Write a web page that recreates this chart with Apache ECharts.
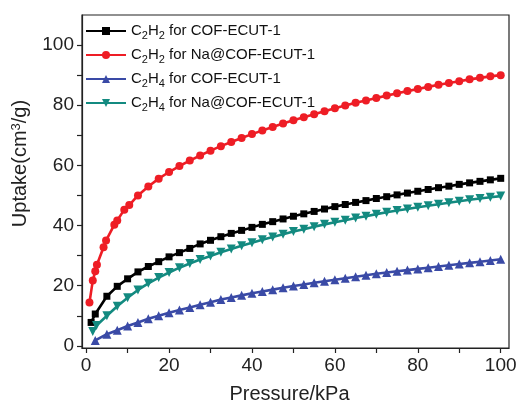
<!DOCTYPE html>
<html>
<head>
<meta charset="utf-8">
<script src="https://cdn.jsdelivr.net/npm/echarts@6/dist/echarts.min.js"></script>
<style>
  html, body { margin: 0; padding: 0; background: #fff; }
  #box01 { width: 517px; height: 405px; }
</style>
</head>
<body>
<div id="box01"></div>
<script>
// 图例名称
var seriesNames = ['C2H2 for COF-ECUT-1', 'C2H2 for Na@COF-ECUT-1', 'C2H4 for COF-ECUT-1', 'C2H4 for Na@COF-ECUT-1'];

// 压力 (kPa)，后段每 2.5 kPa 一个点
var pressureTail = [12.5, 15, 17.5, 20, 22.5, 25, 27.5, 30, 32.5, 35, 37.5, 40, 42.5, 45, 47.5, 50,
    52.5, 55, 57.5, 60, 62.5, 65, 67.5, 70, 72.5, 75, 77.5, 80, 82.5, 85, 87.5, 90, 92.5, 95, 97.5, 100];

var pressureC2H2 = [1.2, 2.2, 5, 7.5, 10].concat(pressureTail);
var uptakeC2H2 = [7.8, 10.6, 16.5, 19.8, 22.3,
    24.6, 26.4, 28.0, 29.6, 31.0, 32.4, 33.9, 35.1, 36.3, 37.4, 38.4, 39.4, 40.4, 41.3, 42.2, 43.1,
    43.9, 44.7, 45.5, 46.3, 47.0, 47.7, 48.3, 49.0, 49.6, 50.2, 50.8, 51.4, 52.0, 52.6, 53.1, 53.7,
    54.2, 54.7, 55.2, 55.7];

var pressureNaC2H2 = [0.8, 1.6, 2.2, 2.6, 4.2, 4.8, 6.8, 7.5, 9.2, 10.4].concat(pressureTail);
var uptakeNaC2H2 = [14.4, 21.7, 24.8, 27.0, 32.8, 35.0, 40.3, 41.7, 45.3, 46.8,
    50.0, 53.0, 55.6, 57.8, 59.8, 61.6, 63.3, 64.9, 66.4, 67.8, 69.1, 70.4, 71.6, 72.8, 73.9, 75.0,
    76.0, 77.0, 78.0, 79.0, 79.9, 80.8, 81.6, 82.4, 83.2, 84.0, 84.7, 85.4, 86.1, 86.8, 87.4, 88.0,
    88.6, 89.1, 89.6, 90.0];

var pressureC2H4 = [2.2, 5, 7.5, 10].concat(pressureTail);
var uptakeC2H4 = [1.8, 3.9, 5.2, 6.6,
    7.8, 9.0, 10.0, 11.0, 11.9, 12.8, 13.7, 14.5, 15.4, 16.1, 16.8, 17.5, 18.1, 18.7, 19.3, 19.9,
    20.4, 21.0, 21.5, 22.0, 22.5, 23.0, 23.5, 24.0, 24.4, 24.8, 25.2, 25.6, 26.0, 26.4, 26.8, 27.2,
    27.6, 28.0, 28.4, 28.8];

var pressureNaC2H4 = [1.6, 2.5, 5, 7.5, 10].concat(pressureTail);
var uptakeNaC2H4 = [4.8, 6.8, 10.0, 13.2, 16.0,
    18.6, 20.8, 22.7, 24.4, 26.0, 27.4, 28.7, 29.9, 31.1, 32.2, 33.3, 34.3, 35.3, 36.2, 37.1, 38.0,
    38.8, 39.6, 40.4, 41.1, 41.8, 42.5, 43.1, 43.8, 44.4, 45.0, 45.5, 46.1, 46.6, 47.1, 47.6, 48.1,
    48.6, 49.0, 49.4, 49.8];

// 刻度
var xTicks = [0, 10, 20, 30, 40, 50, 60, 70, 80, 90, 100];
var xLabels = [0, 20, 40, 60, 80, 100];
var yTicks = [0, 10, 20, 30, 40, 50, 60, 70, 80, 90, 100];
var yLabels = [0, 20, 40, 60, 80, 100];

function pairs(xs, ys) {
    return xs.map(function (x, i) { return [x, ys[i]]; });
}

var legendText = {
    'C2H2 for COF-ECUT-1': '{n|C}{s|2}{n|H}{s|2}{n| for COF-ECUT-1}',
    'C2H2 for Na@COF-ECUT-1': '{n|C}{s|2}{n|H}{s|2}{n| for Na@COF-ECUT-1}',
    'C2H4 for COF-ECUT-1': '{n|C}{s|2}{n|H}{s|4}{n| for COF-ECUT-1}',
    'C2H4 for Na@COF-ECUT-1': '{n|C}{s|2}{n|H}{s|4}{n| for Na@COF-ECUT-1}'
};

var axisColor = '#222';
var font = 'Liberation Sans, Arial, sans-serif';

var myChart = echarts.init(document.getElementById('box01'));

var option = {
    backgroundColor: '#fff',
    animation: false,
    grid: {
        left: 82, right: 8, top: 15, bottom: 57,
        outerBoundsMode: 'none',
        show: true, borderColor: axisColor, borderWidth: 1.2
    },
    legend: {
        orient: 'vertical',
        left: 85, top: 21, padding: 0,
        itemWidth: 40, itemHeight: 10, itemGap: 4,
        data: seriesNames,
        formatter: function (name) { return legendText[name]; },
        textStyle: {
            fontFamily: font, color: '#111',
            rich: {
                n: { fontSize: 15, fontFamily: font, color: '#111', lineHeight: 18, padding: [0, 0, 0, 0] },
                s: { fontSize: 11, fontFamily: font, color: '#111', lineHeight: 11, padding: [9, 0, 0, 0] }
            }
        }
    },
    xAxis: {
        type: 'value', min: -1, max: 102,
        name: 'Pressure/kPa', nameLocation: 'middle', nameGap: 36,
        nameTextStyle: { fontSize: 20, fontFamily: font, color: '#222', padding: [0, 12, 0, 0] },
        axisLine: { show: true, onZero: false, lineStyle: { color: axisColor, width: 1.2 } },
        axisTick: { show: true, length: 5, customValues: xTicks, lineStyle: { color: axisColor, width: 1.2 } },
        axisLabel: { fontSize: 19, fontFamily: font, color: '#222', margin: 8, customValues: xLabels },
        splitLine: { show: false }
    },
    yAxis: {
        type: 'value', min: -0.7, max: 110,
        name: '{n|Uptake(cm}{sup|3}{n|/g)}', nameLocation: 'middle', nameGap: 50,
        nameTextStyle: {
            fontSize: 20, fontFamily: font, color: '#222', padding: [0, 0, 0, 36],
            rich: {
                n: { fontSize: 20, fontFamily: font, color: '#222', lineHeight: 22, verticalAlign: 'top' },
                sup: { fontSize: 13, fontFamily: font, color: '#222', lineHeight: 12, verticalAlign: 'top' }
            }
        },
        axisLine: { show: true, onZero: false, lineStyle: { color: axisColor, width: 1.2 } },
        axisTick: { show: true, length: 5, customValues: yTicks, lineStyle: { color: axisColor, width: 1.2 } },
        axisLabel: { fontSize: 19, fontFamily: font, color: '#222', margin: 8, customValues: yLabels },
        splitLine: { show: false }
    },
    series: [
        {
            name: seriesNames[0], type: 'line', data: pairs(pressureC2H2, uptakeC2H2),
            symbol: 'rect', symbolSize: 7,
            itemStyle: { color: '#000' }, lineStyle: { color: '#000', width: 2.6 }
        },
        {
            name: seriesNames[1], type: 'line', data: pairs(pressureNaC2H2, uptakeNaC2H2),
            symbol: 'circle', symbolSize: 8,
            itemStyle: { color: '#ee1d25' }, lineStyle: { color: '#ee1d25', width: 2.6 }
        },
        {
            name: seriesNames[2], type: 'line', data: pairs(pressureC2H4, uptakeC2H4),
            symbol: 'triangle', symbolSize: 9,
            itemStyle: { color: '#3a4aa6' }, lineStyle: { color: '#3a4aa6', width: 2.6 }
        },
        {
            name: seriesNames[3], type: 'line', data: pairs(pressureNaC2H4, uptakeNaC2H4),
            symbol: 'triangle', symbolRotate: 180, symbolSize: 9,
            itemStyle: { color: '#138a80' }, lineStyle: { color: '#138a80', width: 2.6 }
        }
    ]
};

myChart.setOption(option);
</script>
</body>
</html>
